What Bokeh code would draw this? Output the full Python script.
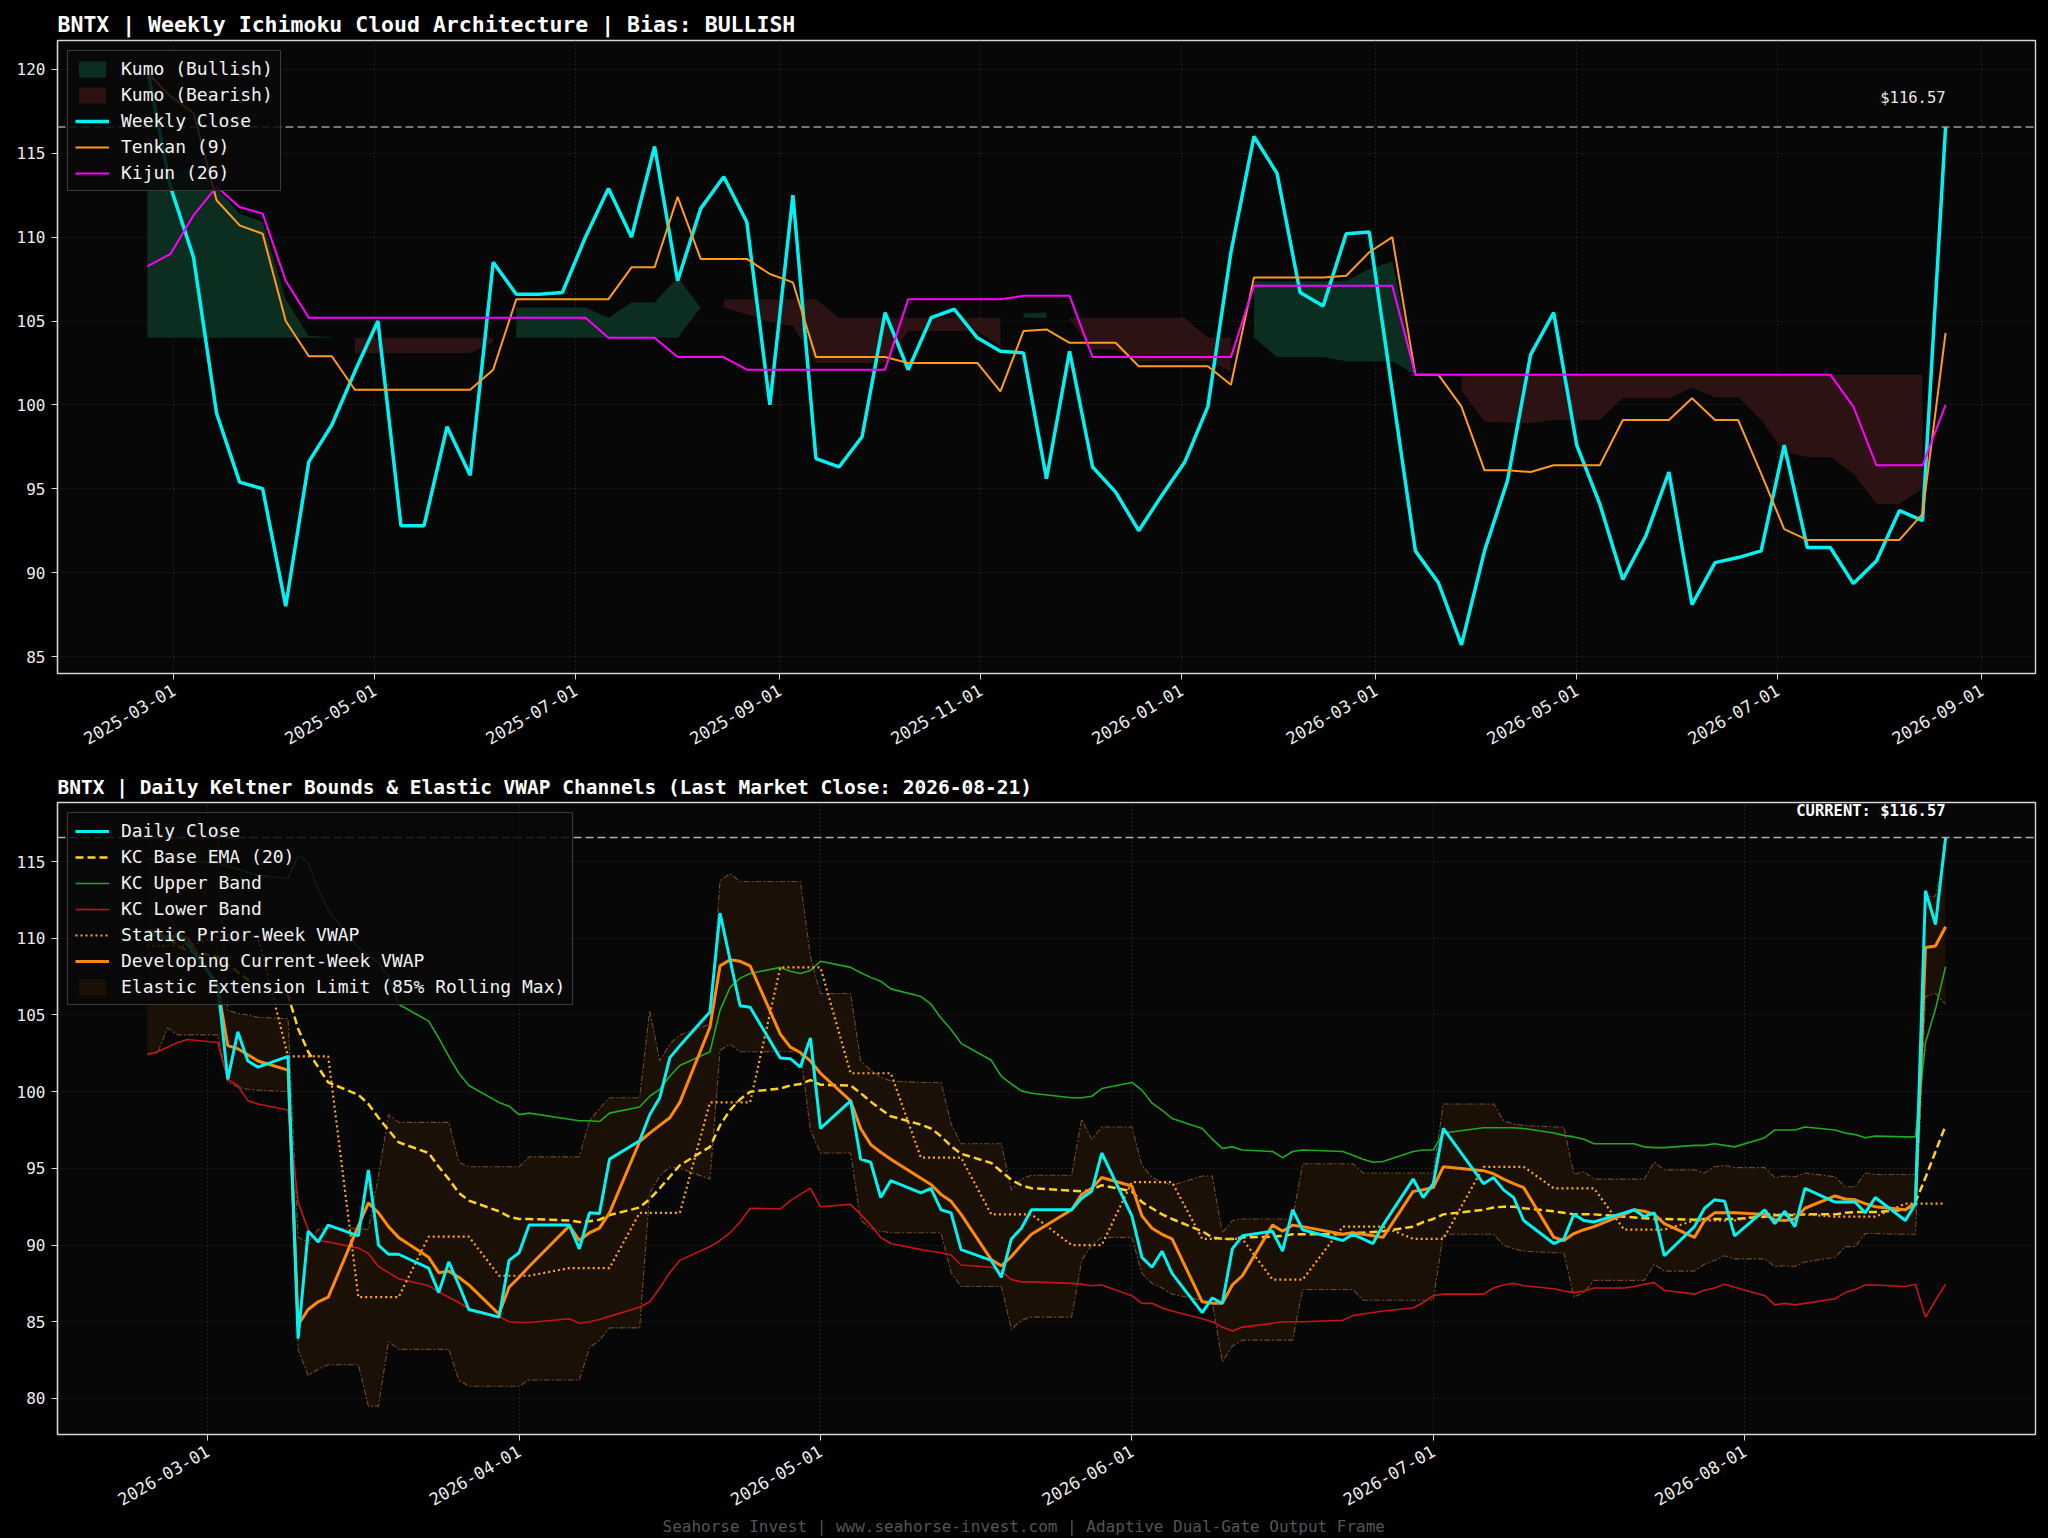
import math
import numpy as np
import pandas as pd
from bokeh.plotting import figure
from bokeh.layouts import column
from bokeh.models import (Range1d, FixedTicker, DatetimeTickFormatter, Legend,
                          LegendItem, Label, Span, Title)
from bokeh.embed import file_html
from bokeh.resources import INLINE

MONO = "DejaVu Sans Mono"

# ---------------- weekly (Ichimoku) data ----------------
weekly_first = "2025-02-21"
weekly_close = [120.0, 113.0, 108.8, 99.5, 95.4, 95.0, 88.0, 96.6, 98.8, 102.0,
                105.0, 92.8, 92.8, 98.7, 95.8, 108.5, 106.6, 106.6, 106.7, 110.0,
                112.9, 110.0, 115.4, 107.4, 111.7, 113.6, 110.9, 100.0, 112.5, 96.8,
                96.3, 98.1, 105.5, 102.1, 105.2, 105.7, 104.0, 103.2, 103.1, 95.6,
                103.2, 96.3, 94.8, 92.5, 94.6, 96.6, 99.9, 109.1, 116.0, 113.8,
                106.7, 105.9, 110.2, 110.3, 100.8, 91.3, 89.4, 85.7, 91.3, 95.5,
                103.0, 105.5, 97.6, 94.1, 89.6, 92.2, 96.0, 88.1, 90.6, 90.9,
                91.3, 97.6, 91.5, 91.5, 89.35, 90.7, 93.7, 93.1, 116.57]
tenkan = [119.8, 118.4, 117.4, 112.2, 110.7, 110.2, 105.0, 102.9, 102.9, 100.9,
          100.9, 100.9, 100.9, 100.9, 100.9, 102.1, 106.3, 106.3, 106.3, 106.3,
          106.3, 108.2, 108.2, 112.4, 108.7, 108.7, 108.7, 107.8, 107.3, 102.85,
          102.85, 102.85, 102.85, 102.5, 102.5, 102.5, 102.5, 100.8, 104.4, 104.5,
          103.7, 103.7, 103.7, 102.3, 102.3, 102.3, 102.3, 101.2, 107.6, 107.6,
          107.6, 107.6, 107.7, 109.1, 110.0, 101.8, 101.8, 99.9, 96.1, 96.1,
          96.0, 96.4, 96.4, 96.4, 99.1, 99.1, 99.1, 100.4, 99.1, 99.1,
          95.9, 92.6, 91.95, 91.95, 91.95, 91.95, 91.95, 93.5, 104.3]
kijun = [108.25, 109.0, 111.3, 113.0, 111.8, 111.4, 107.4, 105.2, 105.2, 105.2,
         105.2, 105.2, 105.2, 105.2, 105.2, 105.2, 105.2, 105.2, 105.2, 105.2,
         104.0, 104.0, 104.0, 102.85, 102.85, 102.85, 102.1, 102.1, 102.1, 102.1,
         102.1, 102.1, 102.1, 106.3, 106.3, 106.3, 106.3, 106.3, 106.5, 106.5,
         106.5, 102.85, 102.85, 102.85, 102.85, 102.85, 102.85, 102.85, 107.1, 107.1,
         107.1, 107.1, 107.1, 107.1, 107.1, 101.8, 101.8, 101.8, 101.8, 101.8,
         101.8, 101.8, 101.8, 101.8, 101.8, 101.8, 101.8, 101.8, 101.8, 101.8,
         101.8, 101.8, 101.8, 101.8, 99.9, 96.4, 96.4, 96.4, 100.0]
span_a = [114.0, 113.7, 114.3, 112.9, 111.4, 110.9, 106.3, 104.1, 104.05, 103.1,
          103.1, 103.1, 103.1, 103.1, 103.1, 103.7, 105.8, 105.8, 105.8, 105.8,
          105.2, 106.1, 106.1, 107.6, 105.8, 105.8, 105.4, 104.95, 104.7, 102.5,
          102.5, 102.5, 102.5, 104.4, 104.4, 104.4, 104.4, 103.5, 105.45, 105.5,
          105.1, 103.3, 103.3, 102.6, 102.6, 102.6, 102.6, 102.0, 107.35, 107.35,
          107.35, 107.35, 107.4, 108.1, 108.55, 101.8, 101.8, 100.85, 99.0, 98.95,
          98.9, 99.1, 99.1, 99.1, 100.4, 100.4, 100.4, 101.0, 100.45, 100.45,
          99.1, 97.2, 96.9, 96.9, 95.9, 94.1, 94.1, 95.0, 102.15]
span_b = [104.0, 104.0, 104.0, 104.0, 104.0, 104.0, 104.0, 104.0, 104.0, 104.0,
          104.0, 104.0, 104.0, 104.0, 104.0, 104.0, 104.0, 104.0, 104.0, 104.0,
          104.0, 104.0, 104.0, 104.0, 105.8, 106.3, 106.3, 106.3, 106.3, 106.3,
          105.2, 105.2, 105.2, 105.2, 105.2, 105.2, 105.2, 105.2, 105.2, 105.2,
          105.2, 105.2, 105.2, 105.2, 105.2, 105.2, 104.0, 104.0, 104.0, 102.85,
          102.85, 102.85, 102.6, 102.6, 102.6, 101.8, 101.8, 101.8, 101.8, 101.8,
          101.8, 101.8, 101.8, 101.8, 101.8, 101.8, 101.8, 101.8, 101.8, 101.8,
          101.8, 101.8, 101.8, 101.8, 101.8, 101.8, 101.8, 101.8, 101.8]
top_xticks = ["2025-03-01", "2025-05-01", "2025-07-01", "2025-09-01", "2025-11-01",
              "2026-01-01", "2026-03-01", "2026-05-01", "2026-07-01", "2026-09-01"]
top_yticks = [85, 90, 95, 100, 105, 110, 115, 120]

# ---------------- daily (Keltner / VWAP) data ----------------
daily_first, daily_last = "2026-02-23", "2026-08-21"
market_holidays = ["2026-04-03", "2026-05-25", "2026-06-19", "2026-07-03"]
daily_close = [
    110.3, 110.2, 109.8, 110.3, 109.6,
    107.0, 100.8, 103.9, 102.0, 101.6,
    102.3, 83.9, 90.9, 90.2, 91.3,
    90.6, 94.9, 90.0, 89.4, 89.4,
    88.5, 86.9, 88.9, 87.4, 85.8,
    85.3, 89.0, 89.5, 91.3,
    91.3, 89.75, 92.1, 92.05, 95.6,
    96.8, 98.5, 99.6, 102.2, 103.0,
    105.2, 111.65, 108.6, 105.6, 105.5,
    102.2, 102.15, 101.6, 103.5, 97.6,
    99.4, 95.6, 95.4, 93.1, 94.2,
    93.4, 93.7, 92.3, 92.1, 89.7,
    89.0, 87.9, 90.4, 91.1, 92.3,
    92.3, 93.05, 93.5, 96.0,
    91.9, 89.2, 88.55, 89.6, 88.15,
    85.6, 86.55, 86.2, 89.75, 90.6,
    90.9, 89.6, 92.3, 91.0,
    90.3, 90.7, 90.4, 90.1, 91.3,
    94.3, 93.1, 94.0, 97.6,
    94.0, 94.4, 93.6, 93.1, 91.6,
    90.1, 90.4, 92.0, 91.6, 91.5,
    92.1, 92.3, 91.85, 92.1, 89.3,
    91.2, 92.4, 92.95, 92.85, 90.6,
    92.3, 91.4, 92.2, 91.2, 93.7,
    92.8, 92.8, 92.8, 92.1, 93.1,
    91.6, 92.7, 113.1, 110.9, 116.57]
kc_ema = [
    110.5, 110.4, 110.0, 109.5, 109.2,
    108.8, 108.3, 107.8, 107.3, 106.9,
    106.3, 104.1, 102.6, 101.6, 100.6,
    99.8, 99.2, 98.3, 97.5, 96.7,
    96.0, 95.1, 94.3, 93.4, 92.9,
    92.2, 91.85, 91.7, 91.7,
    91.6, 91.5, 91.55, 91.65, 91.95,
    92.45, 93.0, 93.7, 94.45, 95.2,
    96.4, 97.8, 98.8, 99.5, 100.0,
    100.2, 100.4, 100.5, 100.75, 100.45,
    100.4, 99.9, 99.35, 98.85, 98.4,
    97.85, 97.6, 97.1, 96.45, 95.95,
    95.35, 94.8, 94.25, 93.9, 93.7,
    93.55, 93.5, 93.6, 93.9,
    93.5, 92.8, 92.4, 92.0, 91.7,
    90.9, 90.5, 90.4, 90.4, 90.5,
    90.55, 90.6, 90.7, 90.7,
    90.7, 90.8, 90.8, 90.85, 90.9,
    91.2, 91.5, 91.7, 92.0,
    92.3, 92.45, 92.5, 92.5, 92.4,
    92.2, 92.1, 92.0, 92.0, 92.0,
    91.85, 91.8, 91.75, 91.7, 91.7,
    91.65, 91.7, 91.7, 91.7, 91.7,
    91.85, 91.95, 91.95, 91.95, 92.0,
    92.0, 92.1, 92.15, 92.15, 92.15,
    92.3, 92.8, 94.4, 96.1, 97.8]
kc_upper = [
    115.2, 115.1, 115.0, 115.0, 115.0,
    114.9, 114.7, 114.5, 114.3, 114.1,
    113.9, 115.4, 114.9, 113.2, 111.8,
    109.4, 108.9, 108.4, 107.5, 105.7,
    104.6, 103.5, 102.3, 101.2, 100.4,
    99.3, 99.05, 98.5, 98.6,
    98.2, 98.1, 98.1, 98.05, 98.6,
    99.0, 99.7, 100.15, 101.0, 101.7,
    102.6, 105.3, 106.8, 107.4, 107.7,
    108.1, 107.85, 107.7, 107.9, 108.5,
    108.1, 107.75, 107.45, 107.2, 106.7,
    106.2, 105.7, 104.8, 104.05, 103.15,
    102.05, 101.0, 100.5, 100.05, 99.9,
    99.6, 99.6, 99.7, 100.2,
    100.6, 100.1, 99.25, 98.8, 98.25,
    97.6, 96.9, 96.3, 96.4, 96.2,
    96.1, 95.7, 96.1, 96.2,
    96.1, 95.85, 95.6, 95.4, 95.45,
    96.1, 96.2, 96.2, 97.3,
    97.65, 97.65, 97.65, 97.65, 97.6,
    97.3, 97.15, 97.05, 96.9, 96.6,
    96.6, 96.6, 96.4, 96.35, 96.35,
    96.5, 96.5, 96.6, 96.5, 96.4,
    97.0, 97.5, 97.5, 97.5, 97.7,
    97.5, 97.3, 97.2, 97.0, 97.1,
    97.05, 97.05, 103.2, 105.4, 108.15]
kc_lower = [
    102.4, 102.6, 102.9, 103.2, 103.4,
    103.2, 100.8, 100.4, 99.4, 99.2,
    98.8, 92.8, 91.0, 90.3, 90.2,
    89.8, 89.45, 88.6, 88.2, 87.8,
    87.35, 86.95, 86.6, 86.25, 85.85,
    85.35, 85.0, 84.95, 84.95,
    85.2, 84.9, 85.0, 85.15, 85.35,
    85.95, 86.3, 87.2, 88.2, 89.0,
    89.9, 90.3, 90.8, 91.5, 92.4,
    92.35, 92.9, 93.3, 93.7, 92.5,
    92.65, 92.0, 91.3, 90.5, 90.1,
    89.7, 89.6, 89.5, 89.35, 88.7,
    88.55, 88.3, 87.75, 87.6, 87.6,
    87.5, 87.45, 87.35, 87.4,
    86.7, 86.2, 86.2, 85.9, 85.7,
    85.2, 85.0, 84.65, 84.4, 84.65,
    84.9, 85.0, 85.0, 85.0,
    85.1, 85.4, 85.5, 85.6, 85.7,
    85.9, 86.25, 86.7, 86.8,
    86.8, 87.2, 87.4, 87.5, 87.35,
    87.15, 87.0, 86.9, 87.0, 87.2,
    87.2, 87.3, 87.45, 87.55, 87.05,
    86.8, 87.05, 87.2, 87.45, 87.25,
    86.7, 86.1, 86.2, 86.1, 86.2,
    86.5, 86.9, 87.1, 87.4, 87.4,
    87.3, 87.45, 85.3, 86.4, 87.45]
static_week_vwap = [109.5, 110.1, 102.3, 86.6, 90.55, 88.0, 88.5, 92.1, 99.3, 108.1,
                    101.2, 95.7, 92.0, 90.0, 94.1, 90.4, 87.75, 91.2, 90.4, 95.1,
                    93.7, 91.0, 91.6, 92.0, 91.85, 92.7]
dev_vwap = [
    110.3, 110.25, 110.1, 110.15, 110.0,
    106.8, 103.0, 102.8, 102.4, 102.0,
    101.4, 84.8, 85.8, 86.3, 86.6,
    91.25, 92.75, 92.1, 91.2, 90.5,
    89.2, 88.2, 88.3, 87.9, 87.4,
    85.5, 87.25, 87.9, 88.6,
    91.25, 90.3, 90.8, 91.1, 92.1,
    96.75, 97.3, 97.8, 98.3, 99.3,
    104.2, 108.2, 108.6, 108.5, 108.2,
    103.75, 102.9, 102.55, 102.0, 101.2,
    99.4, 97.6, 96.55, 96.05, 95.6,
    94.35, 93.95, 93.3, 92.85, 92.0,
    89.05, 88.65, 89.25, 90.0, 90.7,
    92.3, 93.3, 93.7, 94.4,
    93.85, 91.9, 91.1, 90.7, 90.4,
    86.3, 86.2, 86.2, 87.4, 88.0,
    91.3, 90.9, 91.3, 91.2,
    90.7, 90.8, 90.7, 90.6, 90.5,
    93.5, 93.6, 93.75, 95.1,
    94.85, 94.65, 94.3, 94.0, 93.75,
    90.5, 90.3, 90.75, 91.0, 91.2,
    92.0, 92.3, 92.2, 92.0, 91.4,
    90.5, 91.6, 92.1, 92.1, 92.1,
    92.0, 91.65, 91.6, 91.7, 92.4,
    93.2, 93.0, 92.95, 92.7, 92.5,
    92.3, 92.7, 109.4, 109.5, 110.75]
elastic_upper = [
    116.5, 116.6, 117.0, 116.8, 116.8,
    116.8, 105.3, 105.1, 105.0, 104.85,
    104.75, 90.5, 90.2, 91.0, 91.1,
    91.1, 91.0, 94.5, 98.5, 98.0,
    98.0, 98.0, 98.0, 95.4, 95.1,
    95.1, 95.1, 95.1, 95.75,
    95.75, 95.75, 98.1, 98.9, 99.6,
    99.6, 105.3, 102.0, 103.1, 103.7,
    104.4, 113.75, 114.2, 113.7, 113.7,
    113.7, 113.7, 113.7, 108.8, 106.4,
    106.4, 102.0, 101.4, 100.95, 100.7,
    100.6, 100.6, 100.6, 97.9, 96.6,
    96.6, 96.6, 93.6, 94.3, 94.55,
    94.55, 98.2, 96.9, 97.7,
    97.7, 95.2, 94.4, 94.1, 93.9,
    94.5, 94.5, 90.8, 91.6, 91.7,
    91.7, 91.7, 91.7, 95.3,
    95.3, 95.3, 94.7, 94.7, 94.7,
    94.7, 94.7, 94.7, 99.2,
    99.2, 99.2, 98.1, 97.9, 97.8,
    97.7, 97.7, 94.6, 94.8, 94.3,
    94.3, 94.3, 94.3, 95.4, 94.9,
    94.9, 94.7, 95.1, 95.2, 95.05,
    95.05, 94.4, 94.5, 94.45, 94.7,
    94.45, 93.8, 93.8, 94.7, 94.6,
    94.6, 94.6, 112.7, 112.75, 115.8]
elastic_lower = [
    102.5, 102.5, 104.15, 103.7, 103.7,
    103.7, 100.6, 100.3, 100.15, 100.1,
    100.0, 83.2, 81.5, 81.9, 82.2,
    82.2, 79.5, 79.5, 83.7, 83.2,
    83.2, 83.2, 83.2, 81.2, 80.8,
    80.8, 80.8, 80.8, 81.2,
    81.2, 81.2, 83.3, 83.8, 84.6,
    84.6, 93.4, 94.5, 95.1, 95.0,
    94.3, 102.7, 103.1, 102.6, 102.6,
    102.6, 102.6, 102.6, 97.5, 96.0,
    96.0, 91.6, 91.1, 90.9, 90.8,
    90.8, 90.8, 90.8, 88.2, 87.3,
    87.3, 87.3, 84.5, 85.1, 85.3,
    85.3, 89.0, 90.0, 90.5,
    90.5, 88.15, 87.5, 87.2, 86.8,
    86.4, 86.3, 82.4, 83.4, 83.8,
    83.8, 83.8, 83.8, 87.1,
    87.1, 87.1, 86.4, 86.4, 86.4,
    86.4, 86.4, 86.4, 90.7,
    90.7, 90.7, 90.0, 89.75, 89.6,
    89.5, 89.5, 86.6, 86.9, 87.7,
    87.7, 87.7, 87.7, 88.75, 88.3,
    88.3, 88.75, 89.0, 89.3, 89.1,
    89.1, 88.6, 88.65, 88.6, 88.9,
    89.2, 89.9, 89.9, 90.75, 90.75,
    90.7, 90.7, 106.2, 106.4, 105.7]
bottom_xticks = ["2026-03-01", "2026-04-01", "2026-05-01", "2026-06-01",
                 "2026-07-01", "2026-08-01"]
bottom_yticks = [80, 85, 90, 95, 100, 105, 110, 115]

ticker_name = "BNTX"
bias = "BULLISH"
footer_text = "Seahorse Invest | www.seahorse-invest.com | Adaptive Dual-Gate Output Frame"

# ---------------- derived axes ----------------
wdates = pd.date_range(weekly_first, periods=len(weekly_close), freq="7D")
ddates = pd.bdate_range(daily_first, daily_last)
ddates = ddates[~ddates.isin(pd.to_datetime(market_holidays))]
week_idx = np.asarray((ddates - ddates[0]).days // 7)
static_daily = np.array(static_week_vwap)[week_idx]
last_price = daily_close[-1]

def ms(t):
    return pd.Timestamp(t).value / 1e6

def padded(d0, d1, frac=0.05):
    span = (d1 - d0) * frac
    return Range1d(start=ms(d0 - span), end=ms(d1 + span))

W = 2048
BG_PLOT = "#070707"
FRAME = "#d6d6d6"
TXT = "#ececec"

def style(p, xticks, yticks, title_size):
    p.background_fill_color = BG_PLOT
    p.border_fill_color = "#000000"
    p.outline_line_color = FRAME
    p.outline_line_width = 1.4
    p.title.text_font = MONO
    p.title.text_font_size = title_size
    p.title.text_font_style = "bold"
    p.title.text_color = "#ffffff"
    p.title.align = "left"
    p.title.standoff = 7
    p.xaxis.ticker = FixedTicker(ticks=[ms(t) for t in xticks])
    p.yaxis.ticker = FixedTicker(ticks=yticks)
    p.xaxis.formatter = DatetimeTickFormatter(days="%Y-%m-%d", months="%Y-%m-%d",
                                              years="%Y-%m-%d")
    p.xaxis.major_label_orientation = math.pi / 6
    for ax in list(p.xaxis) + list(p.yaxis):
        ax.axis_line_color = FRAME
        ax.axis_line_width = 1.2
        ax.major_tick_line_color = FRAME
        ax.major_tick_out = 6
        ax.major_tick_in = 0
        ax.minor_tick_line_color = None
        ax.major_label_text_font = MONO
        ax.major_label_text_font_size = "16px"
        ax.major_label_text_color = TXT
        ax.major_label_standoff = 6
    for ax in p.xaxis:
        ax.major_label_text_font_size = "17px"
        ax.major_label_standoff = 9
    p.grid.grid_line_color = "#3c3c3c"
    p.grid.grid_line_dash = "1 3"
    p.grid.grid_line_alpha = 0.9

def style_legend(leg):
    leg.location = "top_left"
    leg.background_fill_color = "#080808"
    leg.background_fill_alpha = 0.85
    leg.border_line_color = "#3a3a3a"
    leg.border_line_alpha = 1.0
    leg.label_text_color = "#f2f2f2"
    leg.label_text_font = MONO
    leg.label_text_font_size = "18px"
    leg.glyph_width = 34
    leg.glyph_height = 20
    leg.label_height = 21
    leg.label_standoff = 12
    leg.spacing = 5
    leg.padding = 7
    leg.margin = 10

# ---------------- top: weekly Ichimoku ----------------
p1 = figure(width=W, height=770, x_axis_type="datetime",
            x_range=padded(wdates[0], wdates[-1]), y_range=Range1d(83.99, 121.72),
            output_backend="svg", toolbar_location=None,
            title=f"{ticker_name} | Weekly Ichimoku Cloud Architecture | Bias: {bias}",
            min_border_left=57, min_border_right=13, min_border_top=40,
            min_border_bottom=97)
style(p1, top_xticks, top_yticks, "21.5px")

A = np.array(span_a)
B = np.array(span_b)

def runs(mask):
    out, start = [], None
    for i, m in enumerate(mask):
        if m and start is None:
            start = i
        if not m and start is not None:
            out.append((start, i))
            start = None
    if start is not None:
        out.append((start, len(mask)))
    return out

bull_r, bear_r = [], []
for s, e in runs(A >= B):
    if e - s >= 2:
        bull_r.append(p1.varea(x=wdates[s:e], y1=B[s:e], y2=A[s:e],
                               fill_color="#0b2e20", fill_alpha=1.0))
for s, e in runs(A < B):
    if e - s >= 2:
        bear_r.append(p1.varea(x=wdates[s:e], y1=A[s:e], y2=B[s:e],
                               fill_color="#2c1212", fill_alpha=1.0))

p1.add_layout(Span(location=last_price, dimension="width", line_color="#9a9a9a",
                   line_dash="8 4", line_width=1.5))
r_wc = p1.line(wdates, weekly_close, line_color="#00F2F2", line_width=3.5)
r_tk = p1.line(wdates, tenkan, line_color="#FF9A1F", line_width=2)
r_kj = p1.line(wdates, kijun, line_color="#FF00FF", line_width=2)

p1.add_layout(Label(x=ms(wdates[-1]), y=last_price * 1.01, text=f"${last_price:.2f}",
                    text_align="right", text_baseline="bottom", text_color="#e6e6e6",
                    text_font=MONO, text_font_size="15.5px"))

leg1 = Legend(items=[
    LegendItem(label="Kumo (Bullish)", renderers=[bull_r[0]]),
    LegendItem(label="Kumo (Bearish)", renderers=[bear_r[0]]),
    LegendItem(label="Weekly Close", renderers=[r_wc]),
    LegendItem(label="Tenkan (9)", renderers=[r_tk]),
    LegendItem(label="Kijun (26)", renderers=[r_kj]),
])
style_legend(leg1)
p1.add_layout(leg1)

# ---------------- bottom: daily Keltner / VWAP ----------------
p2 = figure(width=W, height=766, x_axis_type="datetime",
            x_range=padded(ddates[0], ddates[-1]), y_range=Range1d(77.65, 118.85),
            output_backend="svg", toolbar_location=None,
            title=(f"{ticker_name} | Daily Keltner Bounds & Elastic VWAP Channels "
                   f"(Last Market Close: {ddates[-1].strftime('%Y-%m-%d')})"),
            min_border_left=57, min_border_right=13, min_border_top=32,
            min_border_bottom=102)
style(p2, bottom_xticks, bottom_yticks, "19.5px")

r_band = p2.varea(x=ddates, y1=elastic_lower, y2=elastic_upper,
                  fill_color="#1b1005", fill_alpha=1.0)
p2.line(ddates, elastic_upper, line_color="#7a5030", line_width=1.1,
        line_dash="6 2 2 2", line_alpha=0.9)
p2.line(ddates, elastic_lower, line_color="#7a5030", line_width=1.1,
        line_dash="6 2 2 2", line_alpha=0.9)
p2.add_layout(Span(location=last_price, dimension="width", line_color="#b0b0b0",
                   line_dash="8 4", line_width=1.5))
r_up = p2.line(ddates, kc_upper, line_color="#1FAA1F", line_width=1.6)
r_lo = p2.line(ddates, kc_lower, line_color="#C41616", line_width=1.6)
r_ema = p2.line(ddates, kc_ema, line_color="#FFD21F", line_width=2.5, line_dash="8 4")
r_st = p2.line(ddates, static_daily, line_color="#FFA51F", line_width=2.2,
               line_dash="2 3")
r_dv = p2.line(ddates, dev_vwap, line_color="#FF8A0A", line_width=3)
r_dc = p2.line(ddates, daily_close, line_color="#00F2F2", line_width=3)

p2.add_layout(Label(x=ms(ddates[-1]), y=last_price * 1.01,
                    text=f"CURRENT: ${last_price:.2f}", text_align="right",
                    text_baseline="bottom", text_color="#ffffff", text_font=MONO,
                    text_font_size="15.5px", text_font_style="bold"))

leg2 = Legend(items=[
    LegendItem(label="Daily Close", renderers=[r_dc]),
    LegendItem(label="KC Base EMA (20)", renderers=[r_ema]),
    LegendItem(label="KC Upper Band", renderers=[r_up]),
    LegendItem(label="KC Lower Band", renderers=[r_lo]),
    LegendItem(label="Static Prior-Week VWAP", renderers=[r_st]),
    LegendItem(label="Developing Current-Week VWAP", renderers=[r_dv]),
    LegendItem(label="Elastic Extension Limit (85% Rolling Max)", renderers=[r_band]),
])
style_legend(leg2)
p2.add_layout(leg2)

p2.add_layout(Title(text=footer_text, align="left", text_font=MONO,
                    text_font_size="16px", text_font_style="normal",
                    text_color="#555555", standoff=0, offset=605), "below")

layout = column(p1, p2, spacing=0)
layout.styles = {"background-color": "#000000"}
html = file_html(layout, INLINE, title="BNTX Ichimoku & Keltner")
html = html.replace("<head>", "<head><style>html,body{background:#000000;}</style>", 1)
open("out.html", "w").write(html)
